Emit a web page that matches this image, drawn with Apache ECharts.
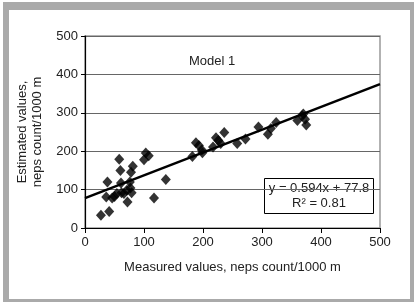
<!DOCTYPE html>
<html>
<head>
<meta charset="utf-8">
<script src="https://cdn.jsdelivr.net/npm/echarts@6/dist/echarts.min.js"></script>
<style>
  html, body { margin: 0; padding: 0; background: #fff; }
  .frame {
    position: absolute; left: 3px; top: 2px; width: 401px; height: 289px;
    border-left: 6px solid #aaa; border-top: 8px solid #aaa;
    border-right: 4px solid #aaa; border-bottom: 3px solid #aaa;
  }
  #chart { position: absolute; left: 0; top: 0; width: 414px; height: 304px; }
</style>
</head>
<body>
<div class="frame"></div>
<div id="chart"></div>
<script>
// measured vs estimated neps (count/1000 m)
const measured = [27, 41, 38, 36, 46, 50, 54, 58, 60, 61, 62, 66, 71, 72, 76, 78, 81, 77, 79,
  100, 103, 108, 117, 137, 182, 188, 193, 198, 199, 217, 222, 226, 230, 236, 258, 272,
  294, 310, 315, 324, 360, 368, 370, 373, 375]
const estimated = [33, 43, 120, 81, 78, 82, 90, 179, 150, 117, 92, 90, 98, 68, 120, 145, 161, 104, 92,
  178, 195, 188, 78, 126, 186, 222, 215, 203, 196, 211, 235, 228, 220, 249, 220, 232,
  263, 244, 259, 275, 280, 292, 297, 283, 268]
const axisTicks = [0, 100, 200, 300, 400, 500]
const fitSlope = 0.594
const fitIntercept = 77.8
const rSquared = 0.81

const font = '"Liberation Sans", Arial, sans-serif'
const points = measured.map((x, i) => [x, estimated[i]])
const xMin = axisTicks[0]
const xMax = axisTicks[axisTicks.length - 1]
const fitLine = [xMin, xMax].map(x => [x, fitSlope * x + fitIntercept])

const chart = echarts.init(document.getElementById('chart'))
chart.setOption({
  animation: false,
  grid: {
    left: 85, right: 34, top: 36, bottom: 76,
    show: true, borderColor: '#999', borderWidth: 1.5, backgroundColor: 'transparent'
  },
  xAxis: {
    type: 'value', min: xMin, max: xMax, interval: 100,
    name: 'Measured values, neps count/1000 m',
    nameLocation: 'middle', nameGap: 33,
    nameTextStyle: { fontFamily: font, fontSize: 13, color: '#222' },
    axisLine: { show: true, lineStyle: { color: '#000', width: 1.2 } },
    axisTick: { show: true, length: 5, lineStyle: { color: '#000' } },
    axisLabel: { fontFamily: font, fontSize: 13, color: '#222', margin: 8 },
    splitLine: { show: false }
  },
  yAxis: {
    type: 'value', min: xMin, max: xMax, interval: 100,
    name: 'Estimated values,\nneps count/1000 m',
    nameLocation: 'middle', nameGap: 40,
    nameTextStyle: { fontFamily: font, fontSize: 13, color: '#222', lineHeight: 15 },
    axisLine: { show: true, lineStyle: { color: '#000', width: 1.2 } },
    axisTick: { show: true, length: 4, lineStyle: { color: '#000' } },
    axisLabel: { fontFamily: font, fontSize: 13, color: '#222', margin: 7 },
    splitLine: { show: true, lineStyle: { color: '#666', width: 1 } }
  },
  series: [{
    type: 'scatter',
    data: points,
    symbol: 'diamond',
    symbolSize: [10, 11],
    itemStyle: { color: '#000' },
    z: 3
  }, {
    type: 'line',
    data: fitLine,
    symbol: 'none',
    lineStyle: { color: '#000', width: 2.5 },
    z: 4
  }],
  graphic: [{
    type: 'text', left: 189, top: 55,
    style: { text: 'Model 1', fontFamily: font, fontSize: 13, fill: '#222' }
  }, {
    type: 'group', left: 264, top: 178,
    children: [{
      type: 'rect', shape: { x: 0, y: 0, width: 109, height: 35 },
      style: { fill: '#fff', stroke: '#000', lineWidth: 1 }
    }, {
      type: 'text', x: 54.5, y: 3,
      style: { text: 'y = ' + fitSlope + 'x + ' + fitIntercept, fontFamily: font, fontSize: 13, fill: '#222', align: 'center' }
    }, {
      type: 'text', x: 54.5, y: 18,
      style: { text: 'R\u00b2 = ' + rSquared, fontFamily: font, fontSize: 13, fill: '#222', align: 'center' }
    }],
    z: 10
  }]
})
</script>
</body>
</html>
